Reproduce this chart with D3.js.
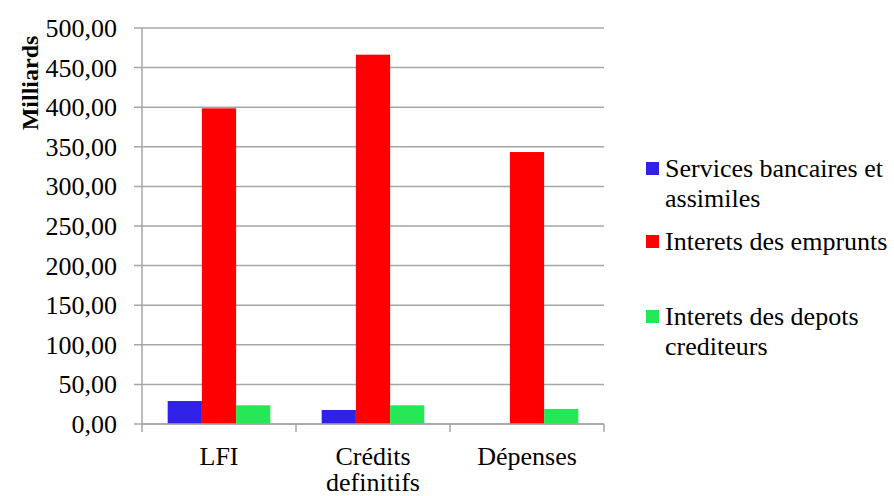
<!DOCTYPE html>
<html>
<head>
<meta charset="utf-8">
<script src="https://cdn.jsdelivr.net/npm/d3@7"></script>
</head>
<body style="margin:0">
<div id="chart"></div>
<script>
// data (Milliards)
const categories = ["LFI", "Crédits definitifs", "Dépenses"];
const catLines = [["LFI"], ["Crédits", "definitifs"], ["Dépenses"]];
const seriesNames = ["Services bancaires et assimiles", "Interets des emprunts", "Interets des depots crediteurs"];
const seriesLines = [["Services bancaires et", "assimiles"], ["Interets des emprunts"], ["Interets des depots", "crediteurs"]];
const services = [29.0, 17.7, 0];
const emprunts = [398.6, 466.3, 343.4];
const depots = [23.6, 23.6, 19.0];
const yTicks = [0, 50, 100, 150, 200, 250, 300, 350, 400, 450, 500];
const colors = ["#3021E8", "#FF0000", "#25E857"];

const W = 894, H = 496;
const plotL = 142, plotR = 604, plotT = 28, plotB = 424;
const FONT = "'Times New Roman'";

const svg = d3.select("#chart").append("svg")
  .attr("width", W).attr("height", H);

const x = d3.scaleBand().domain(categories).range([plotL, plotR]);
const y = d3.scaleLinear().domain([0, 500]).range([plotB, plotT]);

// gap width 150% -> 3 bars + 1.5 bar gap per category
const barW = x.bandwidth() / 4.5;
const sub = d3.scaleBand().domain(d3.range(3)).range([0.75 * barW, 3.75 * barW]);

// gridlines
svg.append("g")
  .selectAll("line")
  .data(yTicks)
  .enter().append("line")
  .attr("x1", plotL - 8).attr("x2", plotR)
  .attr("y1", d => y(d)).attr("y2", d => y(d))
  .attr("stroke", "#a6a6a6").attr("stroke-width", 1.5);

// y labels
yTicks.forEach(v => {
  svg.append("text")
    .attr("x", 117).attr("y", y(v) + 9)
    .attr("text-anchor", "end")
    .style("font-family", FONT)
    .attr("font-size", "26px")
    .text(d3.format(".2f")(v).replace(".", ","));
});

// bars
const allSeries = [services, emprunts, depots];
allSeries.forEach((vals, s) => {
  svg.append("g")
    .selectAll("rect")
    .data(vals)
    .enter().append("rect")
    .attr("x", (d, i) => x(categories[i]) + sub(s))
    .attr("y", d => y(d))
    .attr("width", sub.bandwidth())
    .attr("height", d => plotB - y(d))
    .attr("fill", colors[s]);
});

// axes lines
svg.append("line")
  .attr("x1", plotL).attr("x2", plotL).attr("y1", plotT).attr("y2", plotB)
  .attr("stroke", "#a6a6a6").attr("stroke-width", 1.5);
svg.append("line")
  .attr("x1", plotL).attr("x2", plotR).attr("y1", plotB).attr("y2", plotB)
  .attr("stroke", "#a6a6a6").attr("stroke-width", 1.5);

// x ticks at category borders
const borders = categories.map(c => x(c)).concat([plotR]);
svg.append("g")
  .selectAll("line")
  .data(borders)
  .enter().append("line")
  .attr("x1", d => d).attr("x2", d => d)
  .attr("y1", plotB).attr("y2", plotB + 8)
  .attr("stroke", "#a6a6a6").attr("stroke-width", 1.5);

// x labels, one text per line
catLines.forEach((lines, i) => {
  lines.forEach((ln, j) => {
    svg.append("text")
      .attr("x", x(categories[i]) + x.bandwidth() / 2)
      .attr("y", 465 + j * 26)
      .attr("text-anchor", "middle")
      .style("font-family", FONT)
      .attr("font-size", "26px")
      .text(ln);
  });
});

// y title
svg.append("text")
  .attr("transform", "translate(38,83) rotate(-90)")
  .attr("text-anchor", "middle")
  .style("font-family", FONT)
  .attr("font-size", "24px")
  .attr("font-weight", "bold")
  .text("Milliards");

// legend
const legendY = [177, 250, 325];
seriesLines.forEach((lines, s) => {
  svg.append("rect")
    .attr("x", 646).attr("y", legendY[s] - 15)
    .attr("width", 13).attr("height", 13)
    .attr("fill", colors[s]);
  lines.forEach((ln, j) => {
    svg.append("text")
      .attr("x", 665)
      .attr("y", legendY[s] + j * 30)
      .style("font-family", FONT)
      .attr("font-size", "26px")
      .text(ln);
  });
});
</script>
</body>
</html>
